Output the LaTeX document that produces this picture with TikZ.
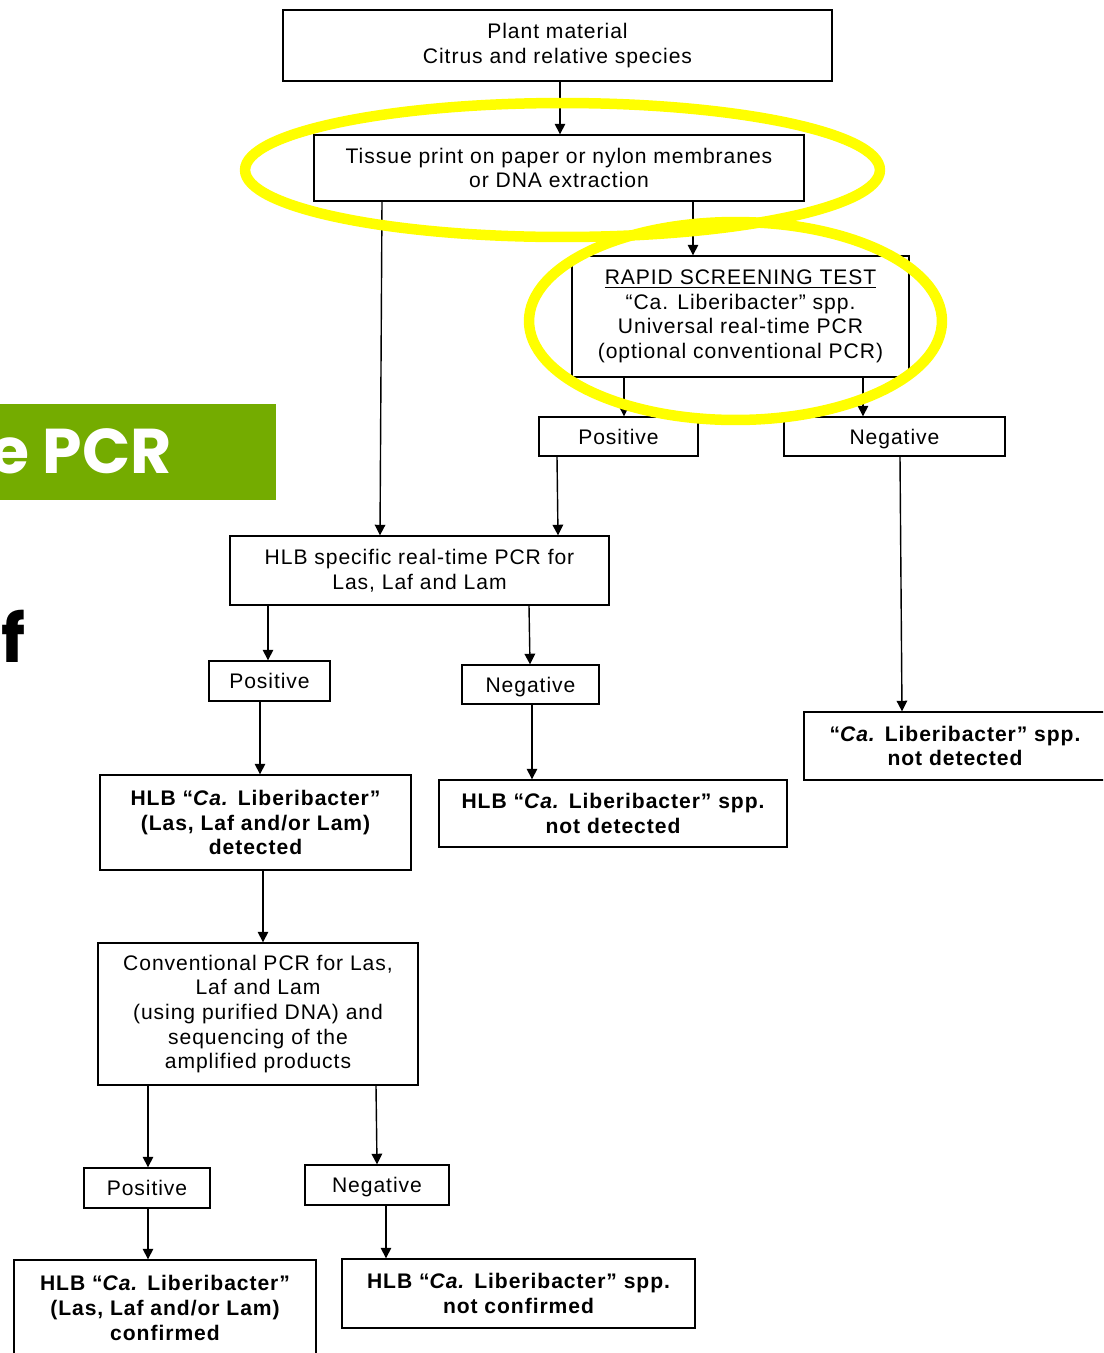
\documentclass[tikz,border=0pt]{standalone}
\usepackage{fontspec}
\setmainfont{Liberation Sans}[LetterSpace=4.5]
\newfontfamily\slidefont{Poppins}
\usetikzlibrary{arrows.meta}
\definecolor{slidegreen}{RGB}{116,172,0}
\definecolor{markyellow}{RGB}{255,255,0}
\tikzset{
  box/.style={draw, line width=0.8pt, align=center, inner sep=2pt,
    font=\fontsize{12}{14}\selectfont},
  boldbox/.style={box, font=\fontsize{12}{14}\selectfont\bfseries},
  outcome/.style={box, text height=8.6pt, text depth=0pt},
  arr/.style={line width=0.8pt, -{Triangle[length=6pt,width=6pt]}},
  ringmark/.style={draw=markyellow, line width=0.21cm},
}
\begin{document}
\begin{tikzpicture}[x=0.02cm, y=-0.02cm]
  \def\ca{\textit{Ca.}}
  \useasboundingbox (0,0) rectangle (1103,1353);
  \clip (0,0) rectangle (1103,1353);
  % Slide behind the chart
  \fill[slidegreen] (0,404) rectangle (276,500);
  \node [anchor=base east, inner sep=0, text=white,
    font=\slidefont\bfseries\fontsize{36}{36}\selectfont] (slide title) at (172,473) {e PCR};
  \node [anchor=base west, inner sep=0,
    font=\slidefont\bfseries\fontsize{38}{38}\selectfont] (slide f) at (1,662) {f};
  % Sample
  \node [box, minimum width=10.98cm, minimum height=1.42cm] (plant) at (557.5,45.5)
    {Plant material\\Citrus and relative species};
  \node [box, minimum width=9.8cm, minimum height=1.32cm] (tissue) at (559,168)
    {Tissue print on paper or nylon membranes\\or DNA extraction};
  % Screening
  \node [box, minimum width=6.74cm, minimum height=2.42cm] (screening) at (740.5,316.5)
    {\underline{RAPID SCREENING TEST}\\``Ca. Liberibacter'' spp.\\Universal real-time PCR\\(optional conventional PCR)};
  \node [outcome, minimum width=3.18cm, minimum height=0.78cm] (screen pos) at (618.5,436.5) {Positive};
  \node [outcome, minimum width=4.42cm, minimum height=0.78cm] (screen neg) at (894.5,436.5) {Negative};
  \node [boldbox, minimum width=6.04cm, minimum height=1.36cm] (screen result) at (955,746)
    {``\ca{} Liberibacter'' spp.\\not detected};
  % Specific real-time PCR
  \node [box, minimum width=7.58cm, minimum height=1.38cm] (specific) at (419.5,570.5)
    {HLB specific real-time PCR for\\Las, Laf and Lam};
  \node [outcome, minimum width=2.42cm, minimum height=0.8cm] (specific pos) at (269.5,681) {Positive};
  \node [outcome, minimum width=2.74cm, minimum height=0.78cm] (specific neg) at (530.5,684.5) {Negative};
  \node [boldbox, minimum width=6.22cm, minimum height=1.9cm] (detected) at (255.5,822.5)
    {HLB ``\ca{} Liberibacter''\\(Las, Laf and/or Lam)\\detected};
  \node [boldbox, minimum width=6.96cm, minimum height=1.34cm] (not detected) at (613,813.5)
    {HLB ``\ca{} Liberibacter'' spp.\\not detected};
  % Conventional PCR
  \node [box, minimum width=6.4cm, minimum height=2.84cm] (conventional) at (258,1014)
    {Conventional PCR for Las,\\Laf and Lam\\(using purified DNA) and\\sequencing of the\\amplified products};
  \node [outcome, minimum width=2.52cm, minimum height=0.8cm] (conv pos) at (147,1188) {Positive};
  \node [outcome, minimum width=2.88cm, minimum height=0.8cm] (conv neg) at (377,1185) {Negative};
  \node [boldbox, minimum width=6.04cm, minimum height=1.92cm] (confirmed) at (165,1308)
    {HLB ``\ca{} Liberibacter''\\(Las, Laf and/or Lam)\\confirmed};
  \node [boldbox, minimum width=7.06cm, minimum height=1.38cm] (not confirmed) at (518.5,1293.5)
    {HLB ``\ca{} Liberibacter'' spp.\\not confirmed};
  % Arrows
  \draw [arr] (plant.south -| 560,0) -- (tissue.north -| 560,0);
  \draw [arr] (tissue.south -| 693,0) -- (screening.north -| 693,0);
  \draw [arr] (tissue.south -| 382,0) -- (specific.north -| 380,0);
  \draw [arr] (screening.south -| 624,0) -- (screen pos.north -| 624,0);
  \draw [arr] (screening.south -| 863,0) -- (screen neg.north -| 863,0);
  \draw [arr] (screen pos.south -| 557,0) -- (specific.north -| 558,0);
  \draw [arr] (screen neg.south -| 900,0) -- (screen result.north -| 902,0);
  \draw [arr] (specific.south -| 268,0) -- (specific pos.north -| 268,0);
  \draw [arr] (specific.south -| 529,0) -- (specific neg.north -| 530,0);
  \draw [arr] (specific pos.south -| 260,0) -- (detected.north -| 260,0);
  \draw [arr] (specific neg.south -| 532,0) -- (not detected.north -| 532,0);
  \draw [arr] (detected.south -| 263,0) -- (conventional.north -| 263,0);
  \draw [arr] (conventional.south -| 148,0) -- (conv pos.north -| 148,0);
  \draw [arr] (conventional.south -| 376,0) -- (conv neg.north -| 377,0);
  \draw [arr] (conv pos.south -| 148,0) -- (confirmed.north -| 148,0);
  \draw [arr] (conv neg.south -| 386,0) -- (not confirmed.north -| 386,0);
  % Highlight rings
  \draw [ringmark] (562.5,170) ellipse [x radius=6.35cm, y radius=1.34cm];
  \draw [ringmark] (735.5,321) ellipse [x radius=4.13cm, y radius=1.98cm];
\end{tikzpicture}
\end{document}
